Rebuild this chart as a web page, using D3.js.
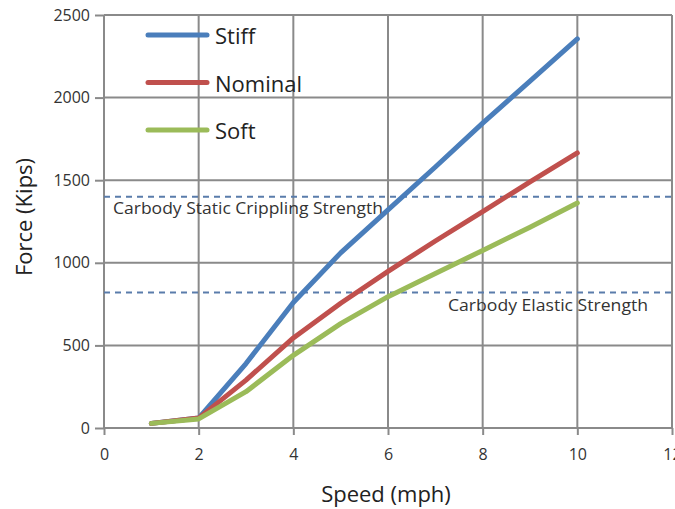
<!DOCTYPE html>
<html>
<head>
<meta charset="utf-8">
<script src="https://cdn.jsdelivr.net/npm/d3@7"></script>
<style>
  body { margin: 0; background: #fff; }
  text { font-family: "Open Sans", "Noto Sans", sans-serif; }
</style>
</head>
<body>
<script>
var speeds = [1, 2, 3, 4, 5, 6, 7, 8, 9, 10];
var stiff = [28, 60, 390, 760, 1060, 1320, 1580, 1845, 2100, 2355];
var nominal = [28, 60, 290, 545, 755, 948, 1132, 1310, 1490, 1665];
var soft = [28, 55, 220, 440, 632, 795, 935, 1075, 1215, 1362];
var seriesNames = ['Stiff', 'Nominal', 'Soft'];
var seriesColors = ['#4a7ebb', '#c0504d', '#9bbb59'];
var xTicks = [0, 2, 4, 6, 8, 10, 12];
var yTicks = [0, 500, 1000, 1500, 2000, 2500];
var limits = [1400, 820];
var limitLabels = ['Carbody Static Crippling Strength', 'Carbody Elastic Strength'];

var W = 675, H = 509;
var svg = d3.select('body').append('svg').attr('width', W).attr('height', H);

var x = d3.scaleLinear().domain([0, 12]).range([104, 672]);
var y = d3.scaleLinear().domain([0, 2500]).range([428, 15]);

// grid
svg.selectAll('line.vgrid')
  .data(xTicks)
  .enter().append('line')
    .attr('class', 'vgrid')
    .attr('x1', function(d) { return x(d); })
    .attr('x2', function(d) { return x(d); })
    .attr('y1', y(0))
    .attr('y2', y(2500))
    .attr('stroke', '#8a8a8a')
    .attr('stroke-width', 2);
svg.selectAll('line.hgrid')
  .data(yTicks)
  .enter().append('line')
    .attr('class', 'hgrid')
    .attr('x1', x(0))
    .attr('x2', x(12))
    .attr('y1', function(d) { return y(d); })
    .attr('y2', function(d) { return y(d); })
    .attr('stroke', '#8a8a8a')
    .attr('stroke-width', 2);

// axes
var yAxis = svg.append('g').attr('transform', 'translate(' + x(0) + ',0)')
  .call(d3.axisLeft(y).tickValues(yTicks).tickFormat(d3.format('d')).tickSize(9).tickPadding(5));
var xAxis = svg.append('g').attr('transform', 'translate(0,' + y(0) + ')')
  .call(d3.axisBottom(x).tickValues(xTicks).tickSize(7).tickPadding(14));
[yAxis, xAxis].forEach(function(a) {
  a.select('.domain').remove();
  a.selectAll('line').attr('stroke', '#8a8a8a').attr('stroke-width', 2);
  a.selectAll('text')
    .attr('font-family', '"Liberation Sans", Arial, sans-serif')
    .attr('font-size', 16)
    .attr('fill', '#333');
});

// reference lines
svg.selectAll('line.limit')
  .data(limits)
  .enter().append('line')
    .attr('class', 'limit')
    .attr('x1', x(0))
    .attr('x2', x(12))
    .attr('y1', function(d) { return y(d); })
    .attr('y2', function(d) { return y(d); })
    .attr('stroke', '#5a7cab')
    .attr('stroke-width', 2)
    .attr('stroke-dasharray', '6,5');
svg.append('text').attr('x', 113).attr('y', y(limits[0]) + 17)
  .attr('font-size', 16).attr('fill', '#333')
  .attr('textLength', 270).attr('lengthAdjust', 'spacingAndGlyphs')
  .text(limitLabels[0]);
svg.append('text').attr('x', 448).attr('y', y(limits[1]) + 18)
  .attr('font-size', 16).attr('fill', '#333')
  .attr('textLength', 200).attr('lengthAdjust', 'spacingAndGlyphs')
  .text(limitLabels[1]);

// series
var line = d3.line()
  .x(function(d, i) { return x(speeds[i]); })
  .y(function(d) { return y(d); });
var allSeries = [stiff, nominal, soft];
svg.selectAll('path.series')
  .data(allSeries)
  .enter().append('path')
    .attr('class', 'series')
    .attr('d', line)
    .attr('fill', 'none')
    .attr('stroke', function(d, i) { return seriesColors[i]; })
    .attr('stroke-width', 5)
    .attr('stroke-linecap', 'round')
    .attr('stroke-linejoin', 'round');

// legend
var leg = svg.selectAll('g.leg')
  .data(seriesNames)
  .enter().append('g')
    .attr('class', 'leg')
    .attr('transform', function(d, i) { return 'translate(148,' + (35 + i * 47.5) + ')'; });
leg.append('line')
  .attr('x1', 0).attr('x2', 59)
  .attr('stroke', function(d, i) { return seriesColors[i]; })
  .attr('stroke-width', 5)
  .attr('stroke-linecap', 'round');
leg.append('text')
  .attr('x', 67).attr('y', 9)
  .attr('font-size', 22).attr('fill', '#222')
  .text(function(d) { return d; });

// axis titles
svg.append('text')
  .attr('transform', 'translate(32,217) rotate(-90)')
  .attr('text-anchor', 'middle')
  .attr('font-size', 22).attr('fill', '#222')
  .text('Force (Kips)');
svg.append('text')
  .attr('x', 386).attr('y', 502)
  .attr('text-anchor', 'middle')
  .attr('font-size', 22).attr('fill', '#222')
  .text('Speed (mph)');
</script>
</body>
</html>
